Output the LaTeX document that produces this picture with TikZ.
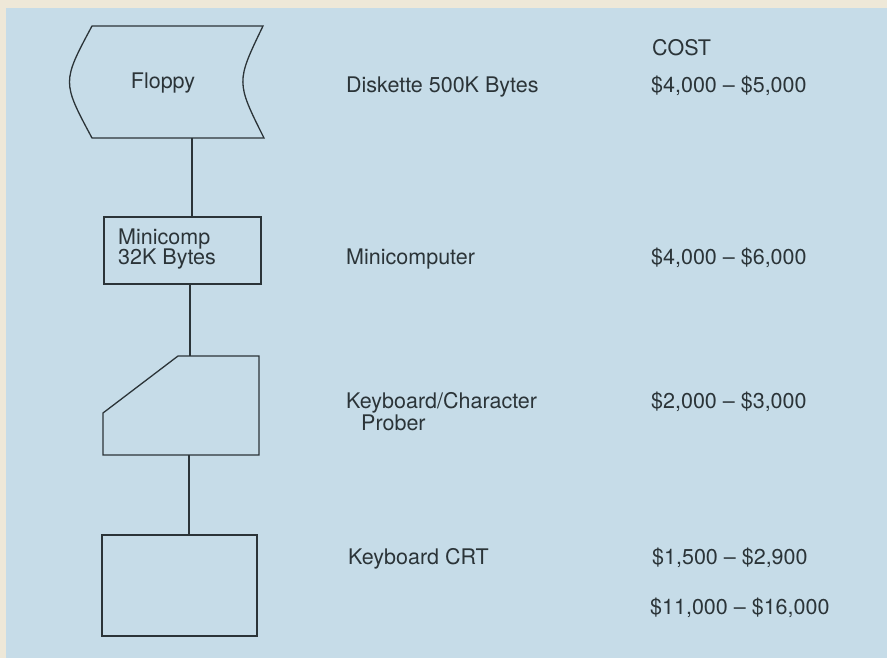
\documentclass[tikz,border=0pt]{standalone}
\usepackage{fontspec}
\setmainfont{TeX Gyre Heros}
\definecolor{bgblue}{HTML}{C6DCE8}
\definecolor{cream}{HTML}{EEE8D8}
\definecolor{ink}{HTML}{2B3438}
\tikzset{
  shapeline/.style={draw=ink, line width=1.3pt, line join=miter},
  conn/.style={draw=ink, line width=1.3pt},
  boxnode/.style={shapeline, rectangle, inner sep=0pt},
  lbl/.style={text=ink, font=\fontsize{21.5}{24}\selectfont, inner sep=0pt, anchor=base west},
}
\begin{document}
\begin{tikzpicture}[x=1pt,y=-1pt]
\useasboundingbox (0,0) rectangle (887,658);
\fill[cream] (0,0) rectangle (887,658);
\fill[bgblue] (6,8) rectangle (887,658);

% Floppy (stored data shape)
\draw[shapeline] (92,26) -- (263,26) .. controls (236,82) .. (264,138) -- (92,138) .. controls (62,82) .. (92,26) -- cycle;
\node[lbl, anchor=base] (floppy) at (163,89) {Floppy};
\coordinate (flbot) at (192,138);

% Minicomputer box
\node[boxnode, minimum width=157pt, minimum height=67pt] (mini) at (182.5,250.5) {};
\node[lbl] (minitext1) at (118,244) {Minicomp};
\node[lbl] (minitext2) at (118,265) {32K Bytes};

% Keyboard / character prober shape
\draw[shapeline] (178,356) -- (259,356) -- (259,455) -- (103,455) -- (103,413) -- cycle;
\coordinate (prtop) at (190,356);
\coordinate (prbot) at (189,455);

% Keyboard CRT box
\node[boxnode, minimum width=155pt, minimum height=101pt] (crt) at (179.5,585.5) {};

% Connectors
\draw[conn] (flbot) -- (mini.north -| flbot);
\draw[conn] (mini.south -| prtop) -- (prtop);
\draw[conn] (prbot) -- (crt.north -| prbot);

% Labels
\node[lbl] (cost) at (652,56) {COST};
\node[lbl] (disk) at (346,93) {Diskette 500K Bytes};
\node[lbl] (c1) at (651,93) {\$4,000 – \$5,000};
\node[lbl] (minil) at (346,264) {Minicomputer};
\node[lbl] (c2) at (651,264) {\$4,000 – \$6,000};
\node[lbl] (kbc) at (346,408) {Keyboard/Character};
\node[lbl] (prober) at (361,430) {Prober};
\node[lbl] (c3) at (651,408) {\$2,000 – \$3,000};
\node[lbl] (crtl) at (348,564) {Keyboard CRT};
\node[lbl] (c4) at (652,564) {\$1,500 – \$2,900};
\node[lbl] (tot) at (650,614) {\$11,000 – \$16,000};
\end{tikzpicture}
\end{document}
